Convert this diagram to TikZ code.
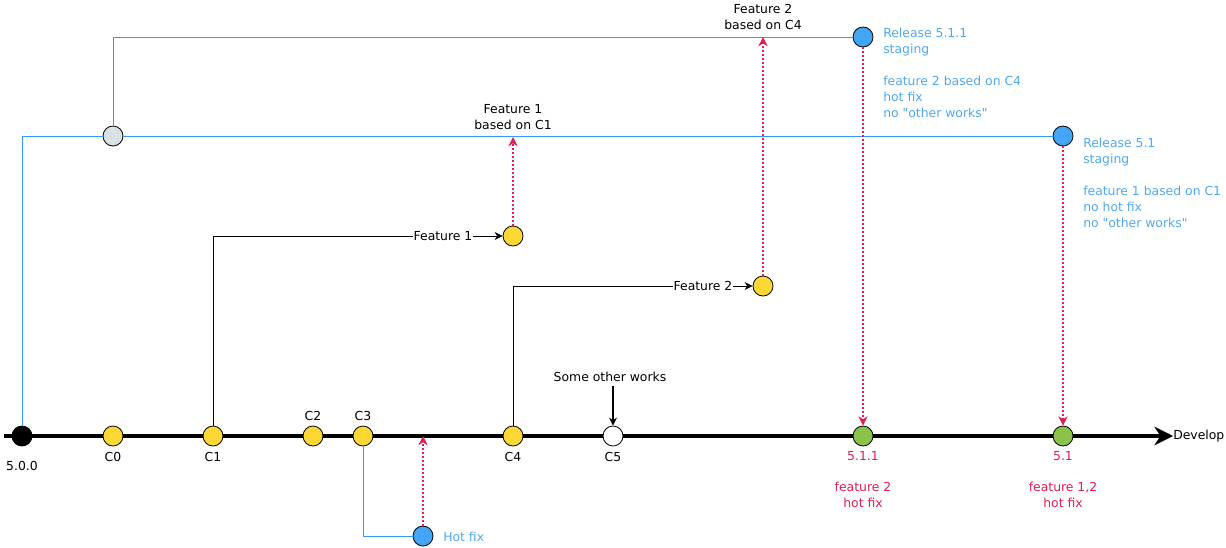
\documentclass[tikz,border=0pt]{standalone}
\usepackage{fontspec}
\setmainfont{DejaVu Sans}[Ligatures=TeXOff]
\usetikzlibrary{arrows.meta}
\definecolor{cyel}{HTML}{FDD835}
\definecolor{cgrn}{HTML}{8BC34A}
\definecolor{cblu}{HTML}{42A5F5}
\definecolor{cblt}{HTML}{4FA8F0}
\definecolor{cbll}{HTML}{3399FF}
\definecolor{cred}{HTML}{DC2053}
\definecolor{cgry}{HTML}{D9E2E2}
\newcommand{\dfont}{\fontsize{9.3}{12}\selectfont}
\tikzset{
  commit/.style={circle,draw=black,line width=0.6pt,minimum size=15pt,inner sep=0pt},
  lbl/.style={font=\dfont,inner sep=1pt,align=center},
  bluelbl/.style={font=\dfont,text=cblt,inner sep=0pt,align=left,anchor=north west},
  redlbl/.style={font=\dfont,text=cred,inner sep=1pt,align=center},
  bline/.style={draw=cbll,line width=0.6pt},
  redarr/.style={color=cred,line width=0.8pt,dash pattern=on 1.5pt off 1.5pt,-{Stealth[length=7pt,width=7pt]}},
  blkarr/.style={draw=black,line width=0.6pt,-{Stealth[length=6pt,width=6pt]}},
  mainline/.style={draw=black,line width=3pt,-{Stealth[length=14pt,width=14pt]}}
}
\begin{document}
\begin{tikzpicture}[x=0.75pt,y=-0.75pt]
\useasboundingbox (0,0) rectangle (1226,547);
% main line
\coordinate (mstart) at (4,436);
\node[lbl,anchor=west,inner sep=0pt] (dev) at (1173,436) {Develop};
\draw[mainline] (mstart) -- (dev.west);
% commits
\node[commit,fill=black] (V500) at (22,436) {};
\node[commit,fill=cyel] (C0) at (113,436) {};
\node[commit,fill=cyel] (C1) at (213,436) {};
\node[commit,fill=cyel] (C2) at (313,436) {};
\node[commit,fill=cyel] (C3) at (363,436) {};
\node[commit,fill=cyel] (C4) at (513,436) {};
\node[commit,fill=white] (C5) at (613,436) {};
\node[commit,fill=cgrn] (N511) at (863,436) {};
\node[commit,fill=cgrn] (N51) at (1063,436) {};
\node[commit,fill=cblu] (HF) at (423,536) {};
\node[commit,fill=cyel] (F1) at (513,236) {};
\node[commit,fill=cyel] (F2) at (763,286) {};
\node[commit,fill=cgry] (G) at (113,136) {};
\node[commit,fill=cblu] (R511) at (863,37) {};
\node[commit,fill=cblu] (R51) at (1063,136) {};
% commit labels
\node[lbl] (l500) at (22,466) {5.0.0};
\node[lbl] (lC0) at (113,457) {C0};
\node[lbl] (lC1) at (213,457) {C1};
\node[lbl] (lC2) at (313,416) {C2};
\node[lbl] (lC3) at (363,416) {C3};
\node[lbl] (lC4) at (513,457) {C4};
\node[lbl] (lC5) at (613,457) {C5};
\node[redlbl] (l511) at (863,456) {5.1.1};
\node[redlbl] (l51) at (1063,456) {5.1};
\node[redlbl] (d511) at (863,495) {feature 2\\hot fix};
\node[redlbl] (d51) at (1063,495) {feature 1,2\\hot fix};
\node[font=\dfont,text=cblt,anchor=west,inner sep=0pt] (lHF) at (443,537) {Hot fix};
\node[lbl] (tF1) at (513,117) {Feature 1\\based on C1};
\node[lbl] (tF2) at (763,17) {Feature 2\\based on C4};
\node[bluelbl] (tR511) at (883,28) {Release 5.1.1\\staging\\[12pt]feature 2 based on C4\\hot fix\\no "other works"};
\node[bluelbl] (tR51) at (1083,138) {Release 5.1\\staging\\[12pt]feature 1 based on C1\\no hot fix\\no "other works"};
\node[lbl] (sow) at (610,377) {Some other works};
% feature branches
\node[lbl,fill=white,inner sep=0.5pt] (lF1) at (443,236) {Feature 1};
\draw[line width=0.6pt] (C1.north) |- (lF1.west);
\draw[blkarr] (lF1.east) -- (F1.west);
\node[lbl,fill=white,inner sep=0.5pt] (lF2) at (703,286) {Feature 2};
\draw[line width=0.6pt] (C4.north) |- (lF2.west);
\draw[blkarr] (lF2.east) -- (F2.west);
% blue lines
\draw[bline] (V500.north) |- (G.west);
\draw[bline] (G.east) -- (R51.west);
\draw[bline] (G.north) |- (R511.west);
\draw[bline] (C3.south) |- (HF.west);
% red dotted arrows
\coordinate (hfT) at (423,436);
\coordinate (f1T) at (513,137);
\coordinate (f2T) at (763,37);
\draw[redarr] (HF.north) -- (hfT);
\draw[redarr] (F1.north) -- (f1T);
\draw[redarr] (F2.north) -- (f2T);
\draw[redarr] (R511.south) -- (N511.north);
\draw[redarr] (R51.south) -- (N51.north);
% other works arrow
\coordinate (sowS) at (613,386);
\draw[blkarr,line width=1.2pt] (sowS) -- (C5.north);
\end{tikzpicture}
\end{document}
